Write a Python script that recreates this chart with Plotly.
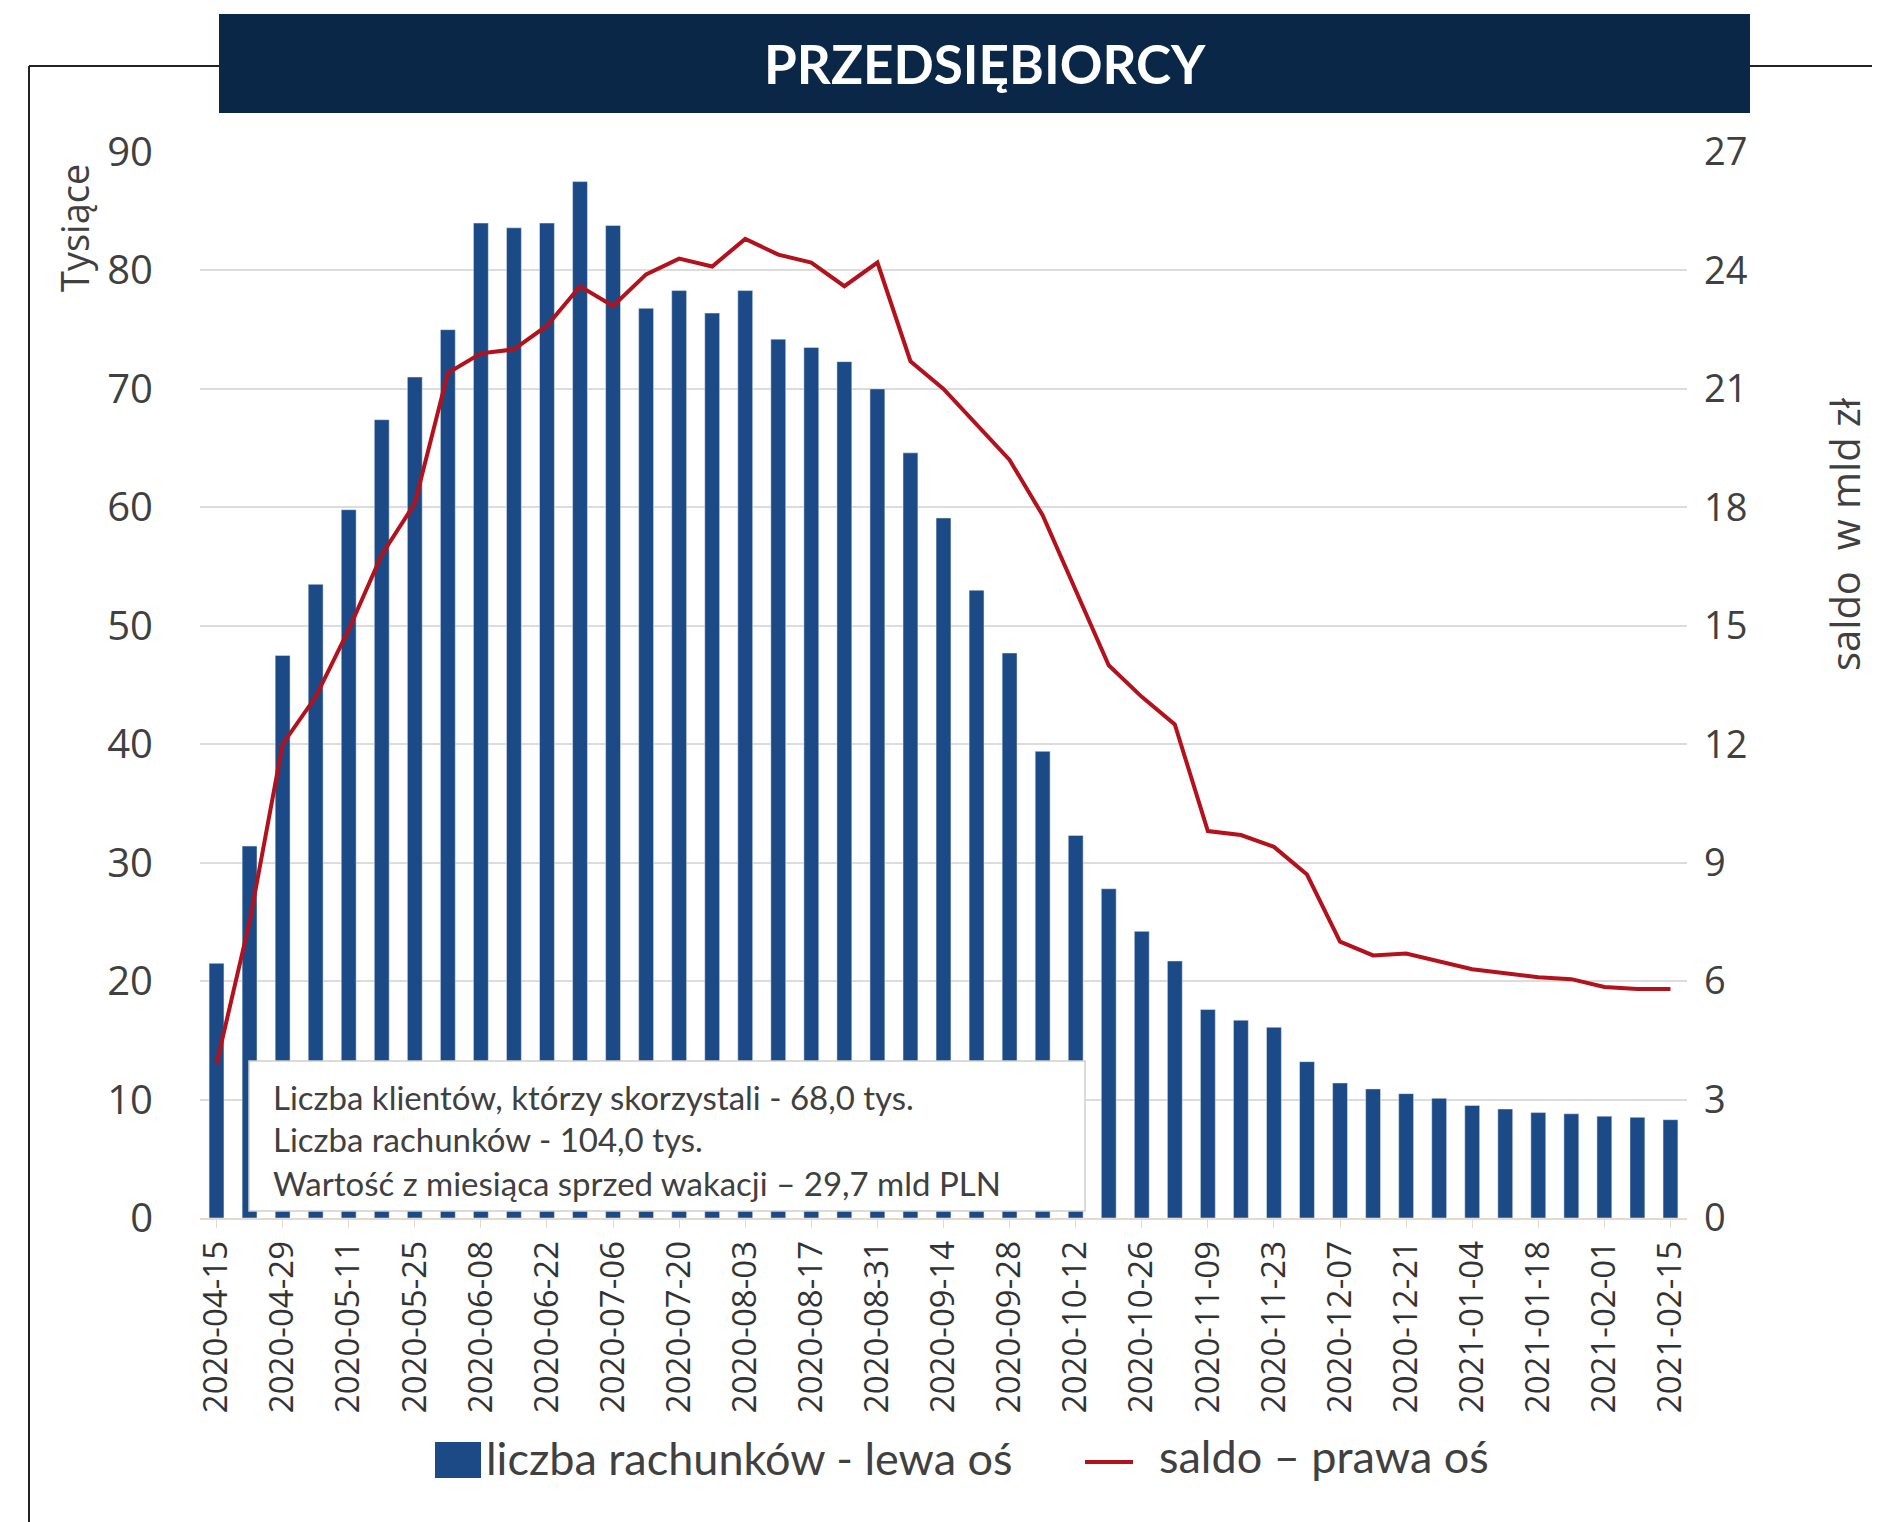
import plotly.graph_objects as go

# weekly observation dates (labels shown every second week)
dates = ["2020-04-15", "2020-04-22", "2020-04-29", "2020-05-04", "2020-05-11",
         "2020-05-18", "2020-05-25", "2020-06-01", "2020-06-08", "2020-06-15",
         "2020-06-22", "2020-06-29", "2020-07-06", "2020-07-13", "2020-07-20",
         "2020-07-27", "2020-08-03", "2020-08-10", "2020-08-17", "2020-08-24",
         "2020-08-31", "2020-09-07", "2020-09-14", "2020-09-21", "2020-09-28",
         "2020-10-05", "2020-10-12", "2020-10-19", "2020-10-26", "2020-11-02",
         "2020-11-09", "2020-11-16", "2020-11-23", "2020-11-30", "2020-12-07",
         "2020-12-14", "2020-12-21", "2020-12-28", "2021-01-04", "2021-01-11",
         "2021-01-18", "2021-01-25", "2021-02-01", "2021-02-08", "2021-02-15"]

# liczba rachunków, tysiące (left axis)
accounts = [21.5, 31.4, 47.5, 53.5, 59.8, 67.4, 71.0, 75.0, 84.0, 83.6,
            84.0, 87.5, 83.8, 76.8, 78.3, 76.4, 78.3, 74.2, 73.5, 72.3,
            70.0, 64.6, 59.1, 53.0, 47.7, 39.4, 32.3, 27.8, 24.2, 21.7,
            17.6, 16.7, 16.1, 13.2, 11.4, 10.9, 10.5, 10.1, 9.5, 9.2,
            8.9, 8.8, 8.6, 8.5, 8.3]

# saldo, mld zł (right axis)
balance = [3.9, 7.5, 12.0, 13.2, 14.9, 16.8, 18.1, 21.4, 21.9, 22.0,
           22.6, 23.6, 23.1, 23.9, 24.3, 24.1, 24.8, 24.4, 24.2, 23.6,
           24.2, 21.7, 21.0, 20.1, 19.2, 17.8, 15.9, 14.0, 13.2, 12.5,
           9.8, 9.7, 9.4, 8.7, 7.0, 6.65, 6.7, 6.5, 6.3, 6.2,
           6.1, 6.05, 5.85, 5.8, 5.8]

left_ticks = [0, 10, 20, 30, 40, 50, 60, 70, 80, 90]
right_ticks = [0, 3, 6, 9, 12, 15, 18, 21, 24, 27]
shown_dates = dates[::2]

info_lines = ["Liczba klientów, którzy skorzystali - 68,0 tys.",
              "Liczba rachunków - 104,0 tys.",
              "Wartość z miesiąca sprzed wakacji – 29,7 mld PLN"]

BAR = "#1c4a86"
RED = "#b3121c"
NAVY = "#0b2747"
TXT = "#404040"

fig = go.Figure()
fig.add_trace(go.Bar(x=dates, y=accounts, marker_color=BAR, width=0.45,
                     name="liczba rachunków - lewa oś"))
fig.add_trace(go.Scatter(x=dates, y=balance, mode="lines", yaxis="y2",
                         line=dict(color=RED, width=4),
                         name="saldo – prawa oś"))

# target positions in page pixels; page body adds an 8px offset
W, H = 1880, 1522
OFF = 8
L, R, T, B = 200, 1687, 152, 1218


def px_x(p):
    return (p - L) / (R - L)


def px_y(p):
    return (B - p) / (B - T)


shapes = [
    # outer frame
    dict(type="line", xref="paper", yref="paper", x0=px_x(29), x1=px_x(1900),
         y0=px_y(66), y1=px_y(66), line=dict(color="#222222", width=2)),
    dict(type="line", xref="paper", yref="paper", x0=px_x(29), x1=px_x(29),
         y0=px_y(66), y1=px_y(1560), line=dict(color="#222222", width=2)),
    # title bar
    dict(type="rect", xref="paper", yref="paper", x0=px_x(219), x1=px_x(1750),
         y0=px_y(113), y1=px_y(14), fillcolor=NAVY, line=dict(width=0)),
    # info box
    dict(type="rect", xref="paper", yref="paper", x0=px_x(249), x1=px_x(1085),
         y0=px_y(1211), y1=px_y(1061), fillcolor="white",
         line=dict(color="#cfcfcf", width=1.5), layer="above"),
    # legend symbols
    dict(type="rect", xref="paper", yref="paper", x0=px_x(435), x1=px_x(481),
         y0=px_y(1478), y1=px_y(1442), fillcolor=BAR, line=dict(width=0)),
    dict(type="line", xref="paper", yref="paper", x0=px_x(1085), x1=px_x(1133),
         y0=px_y(1462), y1=px_y(1462), line=dict(color=RED, width=4)),
]


def note(text, x, y, size, family="Lato", color=TXT, xanchor="center",
         angle=0):
    return dict(text=text, xref="paper", yref="paper", x=px_x(x), y=px_y(y),
                xanchor=xanchor, yanchor="middle", textangle=angle,
                showarrow=False, font=dict(family=family, size=size,
                                           color=color))


annotations = [
    note("<b>PRZEDSIĘBIORCY</b>", 985, 64, 53, color="white"),
    note("Tysiące", 74, 228, 38, family="Open Sans", angle=-90),
    note("saldo  w mld zł", 1844, 534, 40, family="Open Sans", angle=-90),
    note("liczba rachunków - lewa oś", 484, 1458, 45, xanchor="left"),
    note("saldo – prawa oś", 1157, 1456, 45, xanchor="left"),
]
for txt, yy in zip(info_lines, [1097, 1139, 1183]):
    annotations.append(note(txt, 271, yy, 33, xanchor="left"))

fig.update_layout(
    width=W, height=H,
    margin=dict(l=L - OFF, r=W - R + OFF, t=T - OFF, b=H - B + OFF),
    paper_bgcolor="white", plot_bgcolor="white",
    showlegend=False,
    shapes=shapes,
    annotations=annotations,
    xaxis=dict(type="category", categoryorder="array", categoryarray=dates,
               tickmode="array", tickvals=shown_dates, ticktext=shown_dates,
               tickangle=-90, range=[-0.5, len(dates) - 0.5],
               tickfont=dict(family="Open Sans", size=33, color="#333333"),
               showline=True, linecolor="#e3d9cc", linewidth=1.5,
               ticks="outside", ticklen=8, tickcolor="#e3d9cc",
               showgrid=False),
    yaxis=dict(range=[0, 90], tickvals=left_ticks, showgrid=True,
               gridcolor="#dcdcdc", gridwidth=1.5, zeroline=False,
               tickfont=dict(family="Open Sans", size=40, color=TXT),
               ticklabelstandoff=46),
    yaxis2=dict(range=[0, 27], tickvals=right_ticks, overlaying="y",
                side="right", showgrid=False, zeroline=False,
                tickfont=dict(family="Open Sans", size=38, color=TXT),
                ticklabelstandoff=16),
)

fig.write_html("out.html")
